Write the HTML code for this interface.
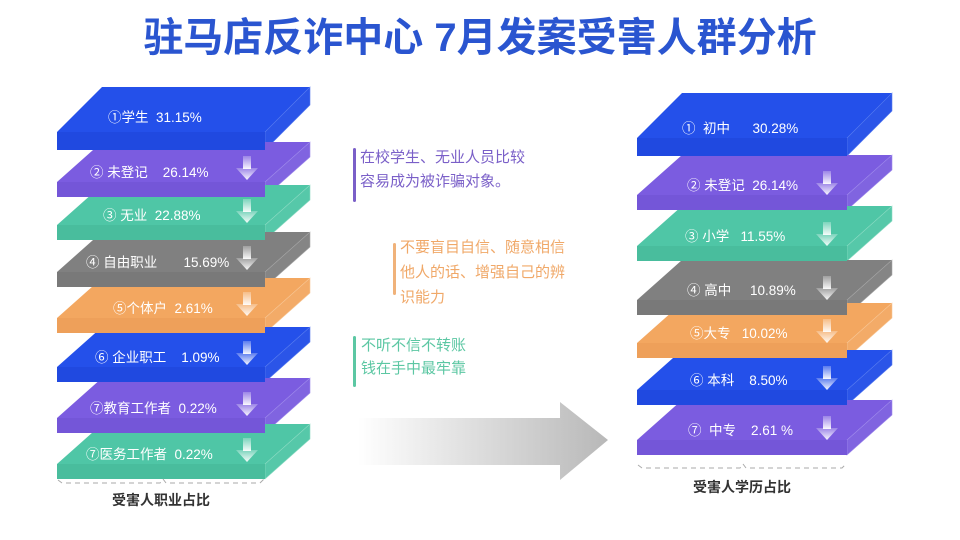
<!DOCTYPE html>
<html><head><meta charset="utf-8">
<style>
html,body{margin:0;padding:0;background:#fff;}
svg{display:block;font-family:"Liberation Sans","Noto Sans CJK SC",sans-serif;}
.l{fill:#fff;font-size:13.5px;white-space:pre;}
</style></head><body>
<svg width="960" height="540" viewBox="0 0 960 540" xmlns="http://www.w3.org/2000/svg" xml:space="preserve">
<defs>
<linearGradient id="ag" x1="0" y1="0" x2="0" y2="1"><stop offset="0" stop-color="#fff" stop-opacity="0.25"/><stop offset="1" stop-color="#fff" stop-opacity="0.95"/></linearGradient>
<linearGradient id="bg" x1="0" y1="0" x2="1" y2="0"><stop offset="0" stop-color="#fff"/><stop offset="1" stop-color="#b8b8b8"/></linearGradient>
<g id="arr"><rect x="-4" y="0" width="8" height="13" fill="url(#ag)"/><polygon points="-11,12 11,12 0,24" fill="url(#ag)"/></g>
</defs>
<text x="480" y="51" text-anchor="middle" font-size="40" font-weight="bold" fill="#2a55d0">驻马店反诈中心 7月发案受害人群分析</text>

<!-- left stack, forward order -->
<g transform="translate(57,87)"><polygon points="0,45 208,45 253,0 45,0" fill="#2450ea"/><polygon points="208,45 253,0 253,18 208,63" fill="#2b55e8" stroke="#5a7ef0" stroke-width="0.6"/></g>
<g transform="translate(57,142)"><polygon points="0,40 208,40 253,0 45,0" fill="#7b5ce0"/><polygon points="208,40 253,0 253,15 208,55" fill="#8064e0" stroke="#a08cec" stroke-width="0.6"/></g>
<g transform="translate(57,185)"><polygon points="0,40 208,40 253,0 45,0" fill="#4fc6a6"/><polygon points="208,40 253,0 253,15 208,55" fill="#56c8a9" stroke="#8edcc4" stroke-width="0.6"/></g>
<g transform="translate(57,232)"><polygon points="0,40 208,40 253,0 45,0" fill="#808080"/><polygon points="208,40 253,0 253,15 208,55" fill="#858585" stroke="#a8a8a8" stroke-width="0.6"/></g>
<g transform="translate(57,278)"><polygon points="0,40 208,40 253,0 45,0" fill="#f3a760"/><polygon points="208,40 253,0 253,15 208,55" fill="#f3ab68" stroke="#f8c898" stroke-width="0.6"/></g>
<g transform="translate(57,327)"><polygon points="0,40 208,40 253,0 45,0" fill="#2450ea"/><polygon points="208,40 253,0 253,15 208,55" fill="#2b55e8" stroke="#5a7ef0" stroke-width="0.6"/></g>
<g transform="translate(57,378)"><polygon points="0,40 208,40 253,0 45,0" fill="#7b5ce0"/><polygon points="208,40 253,0 253,15 208,55" fill="#8064e0" stroke="#a08cec" stroke-width="0.6"/></g>
<g transform="translate(57,424)"><polygon points="0,40 208,40 253,0 45,0" fill="#4fc6a6"/><polygon points="208,40 253,0 253,15 208,55" fill="#56c8a9" stroke="#8edcc4" stroke-width="0.6"/></g>
<!-- fronts -->
<rect x="57" y="132" width="208" height="18" fill="#2049e0"/>
<rect x="57" y="182" width="208" height="15" fill="#7456d8"/>
<rect x="57" y="225" width="208" height="15" fill="#49bd9d"/>
<rect x="57" y="272" width="208" height="15" fill="#797979"/>
<rect x="57" y="318" width="208" height="15" fill="#eea05a"/>
<rect x="57" y="367" width="208" height="15" fill="#2049e0"/>
<rect x="57" y="418" width="208" height="15" fill="#7456d8"/>
<rect x="57" y="464" width="208" height="15" fill="#49bd9d"/>
<use href="#arr" x="247" y="156"/><use href="#arr" x="247" y="199"/><use href="#arr" x="247" y="246"/><use href="#arr" x="247" y="292"/><use href="#arr" x="247" y="341"/><use href="#arr" x="247" y="392"/><use href="#arr" x="247" y="438"/>

<text class="l" x="108" y="122">①学生  31.15%</text>
<text class="l" x="90" y="177">② 未登记    26.14%</text>
<text class="l" x="103" y="220">③ 无业  22.88%</text>
<text class="l" x="86" y="267">④ 自由职业       15.69%</text>
<text class="l" x="113" y="313">⑤个体户  2.61%</text>
<text class="l" x="95" y="362">⑥ 企业职工    1.09%</text>
<text class="l" x="90" y="413">⑦教育工作者  0.22%</text>
<text class="l" x="86" y="459">⑦医务工作者  0.22%</text>
<path d="M58,480 L62,483 L160,483 L163,479 L166,483 L260,483 L265,478" fill="none" stroke="#aaa" stroke-dasharray="5,4"/>
<text x="161" y="505" text-anchor="middle" font-size="14" font-weight="bold" fill="#333">受害人职业占比</text>

<!-- right stack forward -->
<g transform="translate(637,93)"><polygon points="0,45 210,45 255,0 45,0" fill="#2450ea"/><polygon points="210,45 255,0 255,18 210,63" fill="#2b55e8" stroke="#5a7ef0" stroke-width="0.6"/></g>
<g transform="translate(637,155)"><polygon points="0,40 210,40 255,0 45,0" fill="#7b5ce0"/><polygon points="210,40 255,0 255,15 210,55" fill="#8064e0" stroke="#a08cec" stroke-width="0.6"/></g>
<g transform="translate(637,206)"><polygon points="0,40 210,40 255,0 45,0" fill="#4fc6a6"/><polygon points="210,40 255,0 255,15 210,55" fill="#56c8a9" stroke="#8edcc4" stroke-width="0.6"/></g>
<g transform="translate(637,260)"><polygon points="0,40 210,40 255,0 45,0" fill="#808080"/><polygon points="210,40 255,0 255,15 210,55" fill="#858585" stroke="#a8a8a8" stroke-width="0.6"/></g>
<g transform="translate(637,303)"><polygon points="0,40 210,40 255,0 45,0" fill="#f3a760"/><polygon points="210,40 255,0 255,15 210,55" fill="#f3ab68" stroke="#f8c898" stroke-width="0.6"/></g>
<g transform="translate(637,350)"><polygon points="0,40 210,40 255,0 45,0" fill="#2450ea"/><polygon points="210,40 255,0 255,15 210,55" fill="#2b55e8" stroke="#5a7ef0" stroke-width="0.6"/></g>
<g transform="translate(637,400)"><polygon points="0,40 210,40 255,0 45,0" fill="#7b5ce0"/><polygon points="210,40 255,0 255,15 210,55" fill="#8064e0" stroke="#a08cec" stroke-width="0.6"/></g>
<rect x="637" y="138" width="210" height="18" fill="#2049e0"/>
<rect x="637" y="195" width="210" height="15" fill="#7456d8"/>
<rect x="637" y="246" width="210" height="15" fill="#49bd9d"/>
<rect x="637" y="300" width="210" height="15" fill="#797979"/>
<rect x="637" y="343" width="210" height="15" fill="#eea05a"/>
<rect x="637" y="390" width="210" height="15" fill="#2049e0"/>
<rect x="637" y="440" width="210" height="15" fill="#7456d8"/>
<use href="#arr" x="827" y="171"/><use href="#arr" x="827" y="222"/><use href="#arr" x="827" y="276"/><use href="#arr" x="827" y="319"/><use href="#arr" x="827" y="366"/><use href="#arr" x="827" y="416"/>

<text class="l" x="682" y="133">①  初中      30.28%</text>
<text class="l" x="687" y="190">② 未登记  26.14%</text>
<text class="l" x="685" y="241">③ 小学   11.55%</text>
<text class="l" x="687" y="295">④ 高中     10.89%</text>
<text class="l" x="690" y="338">⑤大专   10.02%</text>
<text class="l" x="690" y="385">⑥ 本科    8.50%</text>
<text class="l" x="688" y="435">⑦  中专    2.61 %</text>
<path d="M638,465 L642,468 L740,468 L743,464 L746,468 L842,468 L846,464" fill="none" stroke="#aaa" stroke-dasharray="5,4"/>
<text x="742" y="492" text-anchor="middle" font-size="14" font-weight="bold" fill="#333">受害人学历占比</text>

<!-- middle -->
<rect x="353" y="148" width="3" height="54" rx="1.5" fill="#7a5fc8"/>
<text x="360" y="162" font-size="15" fill="#7a5fc8">在校学生、无业人员比较</text>
<text x="360" y="186" font-size="15" fill="#7a5fc8">容易成为被诈骗对象。</text>
<rect x="393" y="243" width="3" height="52" rx="1.5" fill="#f0b27a"/>
<text x="400" y="252" font-size="15" fill="#f0a868">不要盲目自信、随意相信</text>
<text x="400" y="277" font-size="15" fill="#f0a868">他人的话、增强自己的辨</text>
<text x="400" y="302" font-size="15" fill="#f0a868">识能力</text>
<rect x="353" y="336" width="3" height="51" rx="1.5" fill="#5cc7a3"/>
<text x="361" y="350" font-size="15" fill="#5cc7a3">不听不信不转账</text>
<text x="361" y="373" font-size="15" fill="#5cc7a3">钱在手中最牢靠</text>
<polygon points="358,418 560,418 560,402 608,440 560,480 560,465 358,465" fill="url(#bg)"/>
</svg>
</body></html>
